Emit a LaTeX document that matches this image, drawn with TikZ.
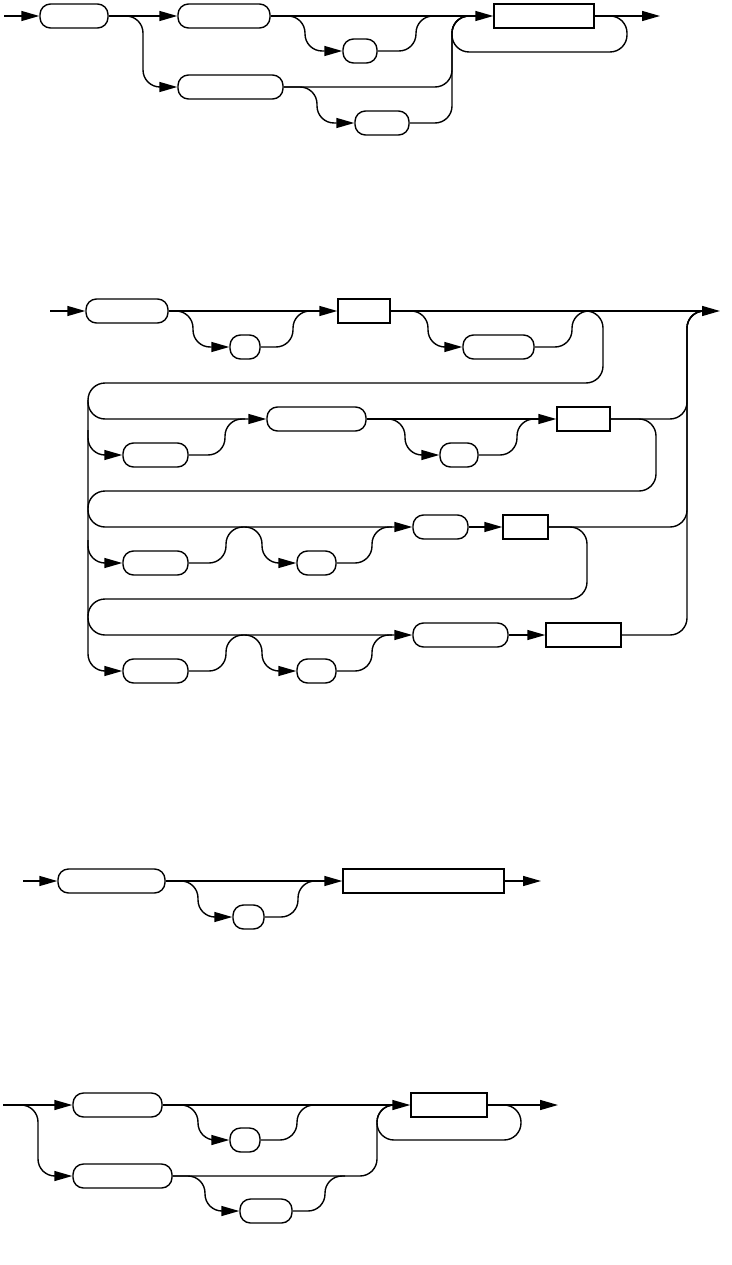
\documentclass[tikz,border=0pt]{standalone}
\usetikzlibrary{arrows.meta}
\tikzset{
  term/.style={draw, line width=1.4pt, rounded corners=10.5pt, inner sep=0pt, minimum height=24pt},
  nterm/.style={draw, line width=1.4pt, rectangle, inner sep=0pt, minimum height=24pt},
  conn/.style={line width=1.4pt, rounded corners=17pt},
  arr/.style={conn, -{Triangle[length=18pt,width=10pt]}}
}
\begin{document}
\begin{tikzpicture}[x=1pt,y=-1pt]
\useasboundingbox (0,0) rectangle (731,1265);
% ---------- diagram 1 ----------
\coordinate (in1) at (4,16);
\coordinate (out1) at (660,16);
\node[term, minimum width=68pt] (t1) at (74,16) {};
\node[term, minimum width=92pt] (t2) at (224,16) {};
\node[term, minimum width=34pt] (s1) at (360,51) {};
\node[term, minimum width=105pt] (t3) at (230.5,87) {};
\node[term, minimum width=54pt] (s2) at (382,123) {};
\node[nterm, minimum width=100pt] (r1) at (544,16) {};
\draw[arr] (in1) -- (t1.west);
\draw[arr] (t1.east) -- (t2.west);
\draw[arr] (t1.east) -- (143,16) -- (143,87) -- (t3.west);
\draw[arr] (t2.east) -- (305,16) -- (305,51) -- (s1.west);
\draw[conn] (s1.east) -- (416,51) -- (416,16) -- (440,16);
\draw[arr] (t2.east) -- (r1.west);
\draw[arr] (t3.east) -- (317,87) -- (317,123) -- (s2.west);
\draw[conn] (t3.east) -- (452,87) -- (452,16) -- (476,16);
\draw[conn] (s2.east) -- (452,123) -- (452,16) -- (476,16);
\draw[conn] (r1.east) -- (627,16) -- (627,52) -- (452,52) -- (452,16) -- (476,16);
\draw[arr] (r1.east) -- (out1);
% ---------- diagram 2 ----------
\coordinate (in2) at (50,311);
\coordinate (out2) at (720,311);
\node[term, minimum width=82pt] (A) at (127,311) {};
\node[term, minimum width=30pt] (a1) at (245,347) {};
\node[nterm, minimum width=52pt] (B1) at (364,311) {};
\node[term, minimum width=71pt] (B) at (498.5,347) {};
\node[term, minimum width=99pt] (D) at (316.5,419) {};
\node[term, minimum width=65pt] (E) at (155.5,455) {};
\node[term, minimum width=38pt] (G) at (459,455) {};
\node[nterm, minimum width=53pt] (F) at (583.5,419) {};
\node[term, minimum width=55pt] (H) at (440.5,527) {};
\node[nterm, minimum width=45pt] (I) at (525.5,527) {};
\node[term, minimum width=65pt] (J) at (155.5,563) {};
\node[term, minimum width=39pt] (K) at (316.5,563) {};
\node[term, minimum width=95pt] (L) at (460.5,635) {};
\node[nterm, minimum width=75pt] (M) at (583.5,635) {};
\node[term, minimum width=65pt] (N) at (155.5,671) {};
\node[term, minimum width=39pt] (O) at (316.5,671) {};
\draw[arr] (in2) -- (A.west);
\draw[arr] (A.east) -- (B1.west);
\draw[arr] (A.east) -- (193,311) -- (193,347) -- (a1.west);
\draw[conn] (a1.east) -- (293,347) -- (293,311) -- (315,311);
\draw[arr] (B1.east) -- (out2);
\draw[arr] (B1.east) -- (428,311) -- (428,347) -- (B.west);
\draw[conn] (B.east) -- (572,347) -- (572,311) -- (592,311);
\draw[arr] (582,311) -- (603,311) -- (603,383) -- (88,383) -- (88,419) -- (D.west);
\draw[arr] (88,400) -- (88,671) -- (N.west);
\draw[arr] (88,430) -- (88,455) -- (E.west);
\draw[conn] (E.east) -- (225,455) -- (225,419) -- (245,419);
\draw[arr] (D.east) -- (F.west);
\draw[arr] (D.east) -- (405,419) -- (405,455) -- (G.west);
\draw[conn] (G.east) -- (517,455) -- (517,419) -- (537,419);
\draw[conn] (F.east) -- (687,419) -- (687,311) -- (705,311);
\draw[arr] (F.east) -- (656,419) -- (656,491) -- (88,491) -- (88,527) -- (H.west);
\draw[arr] (88,540) -- (88,563) -- (J.west);
\draw[arr] (H.east) -- (I.west);
\draw[conn] (I.east) -- (687,527) -- (687,311) -- (705,311);
\draw[arr] (I.east) -- (587,527) -- (587,599) -- (88,599) -- (88,635) -- (L.west);
\draw[arr] (J.east) -- (226,563) -- (226,527) -- (262,527) -- (262,563) -- (K.west);
\draw[conn] (K.east) -- (372,563) -- (372,527) -- (392,527);
\draw[arr] (L.east) -- (M.west);
\draw[conn] (M.east) -- (687,635) -- (687,311) -- (705,311);
\draw[arr] (N.east) -- (226,671) -- (226,635) -- (262,635) -- (262,671) -- (O.west);
\draw[conn] (O.east) -- (372,671) -- (372,635) -- (392,635);
% ---------- diagram 3 ----------
\coordinate (in3) at (23,881);
\coordinate (out3) at (541,881);
\node[term, minimum width=107pt] (P) at (111.5,881) {};
\node[term, minimum width=31pt] (R) at (248.5,917) {};
\node[nterm, minimum width=161pt] (Q) at (423.5,881) {};
\draw[arr] (in3) -- (P.west);
\draw[arr] (P.east) -- (Q.west);
\draw[arr] (P.east) -- (198,881) -- (198,917) -- (R.west);
\draw[conn] (R.east) -- (298,917) -- (298,881) -- (318,881);
\draw[arr] (Q.east) -- (out3);
% ---------- diagram 4 ----------
\coordinate (in4) at (3,1105);
\coordinate (out4) at (558,1105);
\node[term, minimum width=89pt] (S) at (117.5,1105) {};
\node[term, minimum width=99pt] (T) at (122.5,1176) {};
\node[term, minimum width=30pt] (V) at (245,1140) {};
\node[term, minimum width=52pt] (W) at (266,1211) {};
\node[nterm, minimum width=76pt] (U) at (449,1105) {};
\draw[arr] (in4) -- (S.west);
\draw[arr] (in4) -- (38,1105) -- (38,1176) -- (T.west);
\draw[arr] (S.east) -- (U.west);
\draw[arr] (S.east) -- (198,1105) -- (198,1140) -- (V.west);
\draw[conn] (V.east) -- (297,1140) -- (297,1105) -- (317,1105);
\draw[arr] (T.east) -- (205,1176) -- (205,1211) -- (W.west);
\draw[conn] (W.east) -- (325,1211) -- (325,1176) -- (345,1176);
\draw[conn] (T.east) -- (377,1176) -- (377,1105) -- (400,1105);
\draw[conn] (U.east) -- (521,1105) -- (521,1140) -- (377,1140) -- (377,1105) -- (400,1105);
\draw[arr] (U.east) -- (out4);
\end{tikzpicture}
\end{document}
